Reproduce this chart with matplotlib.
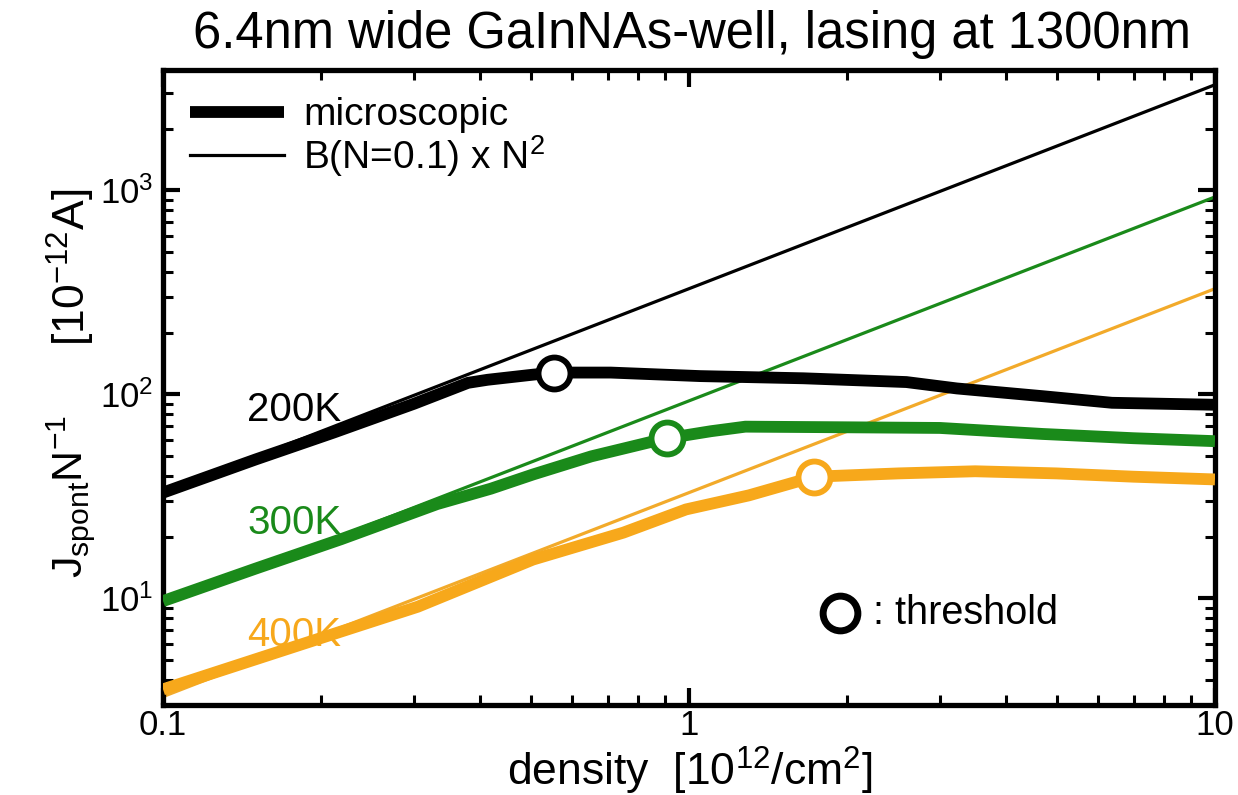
import matplotlib
matplotlib.use("Agg")
import matplotlib.pyplot as plt
from matplotlib.lines import Line2D
from matplotlib.ticker import LogLocator, FixedLocator, FixedFormatter

plt.rcParams['font.family'] = ['Liberation Sans', 'DejaVu Sans']
plt.rcParams['mathtext.fontset'] = 'custom'
plt.rcParams['mathtext.rm'] = 'Liberation Sans'
plt.rcParams['mathtext.it'] = 'Liberation Sans:italic'
plt.rcParams['mathtext.bf'] = 'Liberation Sans:bold'

# ---- data ----
# thin lines: B(N=0.1) x N^2, i.e. J/N proportional to N
thin_x = [0.1, 10]
thin_200 = [33, 3300]
thin_300 = [9.3, 930]
thin_400 = [3.3, 330]

x_200 = [0.1, 0.15, 0.211, 0.3, 0.38, 0.414, 0.505, 0.554, 0.71, 1.05, 1.65, 2.59, 3.23, 4.71, 6.37, 10]
y_200 = [33, 48, 65, 90, 114, 118, 125, 128, 128, 123, 120, 115, 107, 98, 91, 89]

x_300 = [0.1, 0.15, 0.218, 0.332, 0.42, 0.505, 0.652, 0.835, 0.91, 1.1, 1.28, 2.0, 3.0, 4.7, 7.0, 10]
y_300 = [9.7, 14, 19.5, 29, 34.5, 40.5, 49.7, 58, 61, 66, 69.5, 69, 68.5, 64, 61, 59]

x_400 = [0.1, 0.2, 0.305, 0.505, 0.75, 0.987, 1.3, 1.73, 2.5, 3.5, 5, 7, 10]
y_400 = [3.58, 6.4, 9.1, 15.5, 21, 27.3, 32, 39.5, 41, 42, 41, 39.5, 38.3]

thr_x = [0.554, 0.91, 1.73]
thr_y = [128, 61, 39.5]

temps = ['200K', '300K', '400K']
colors = ['black', '#1a8a1a', '#f7a81b']
thin_colors = ['black', '#1a8a1a', '#f2aa2a']

fig = plt.figure(figsize=(12.38, 7.95), dpi=100)
ax = fig.add_axes([0.1317, 0.1132, 0.8497, 0.7988])
ax.set_xscale('log')
ax.set_yscale('log')
ax.set_xlim(0.1, 10)
ax.set_ylim(3.0, 3900)

thins = [thin_200, thin_300, thin_400]
thick_x = [x_200, x_300, x_400]
thick_y = [y_200, y_300, y_400]
for i in range(3):
    ax.plot(thin_x, thins[i], color=thin_colors[i], lw=2.3, solid_capstyle='butt', zorder=2)
    ax.plot(thick_x[i], thick_y[i], color=colors[i], lw=8.5, solid_capstyle='butt',
            solid_joinstyle='round', zorder=3)
    ax.plot([thr_x[i]], [thr_y[i]], 'o', ms=23, mfc='white', mec=colors[i], mew=4.2, zorder=4)

# temperature labels
label_y = [0.465, 0.287, 0.110]
for t, c, yy in zip(temps, colors, label_y):
    ax.text(0.080, yy, t, color=c, fontsize=29, transform=ax.transAxes,
            ha='left', va='center')

# ticks
ax.xaxis.set_major_locator(FixedLocator([0.1, 1, 10]))
ax.xaxis.set_major_formatter(FixedFormatter(['0.1', '1', '10']))
ax.xaxis.set_minor_locator(LogLocator(base=10, subs=range(2, 10)))
ax.yaxis.set_major_locator(FixedLocator([10, 100, 1000]))
ax.yaxis.set_major_formatter(FixedFormatter([r'$10^1$', r'$10^2$', r'$10^3$']))
ax.yaxis.set_minor_locator(LogLocator(base=10, subs=range(2, 10)))
ax.xaxis.set_minor_formatter(FixedFormatter([]))
ax.yaxis.set_minor_formatter(FixedFormatter([]))
ax.tick_params(which='both', direction='in', top=True, right=True, labelsize=25)
ax.tick_params(which='major', length=12, width=3)
ax.tick_params(which='minor', length=7, width=2.2)
ax.tick_params(axis='x', pad=3)
ax.tick_params(axis='y', pad=7)
for s in ax.spines.values():
    s.set_linewidth(3.8)

# axis labels
fig.text(0.557, 0.012, r'density  [10$^{12}$/cm$^2$]', fontsize=32,
         ha='center', va='baseline')
fig.text(0.057, 0.664, r'[10$^{-12}$A]', fontsize=32, rotation=90,
         ha='center', va='center')
fig.text(0.057, 0.375, r'J$_{\mathrm{spont}}$N$^{-1}$', fontsize=31, rotation=90,
         ha='center', va='center')

fig.text(0.559, 0.957, '6.4nm wide GaInNAs-well, lasing at 1300nm', fontsize=36.5,
         ha='center', va='center')

# legend
h1 = [Line2D([], [], color='black', lw=8.5, solid_capstyle='butt'),
      Line2D([], [], color='black', lw=2.3)]
leg1 = ax.legend(h1, ['microscopic', r'B(N=0.1) x N$^2$'], loc='upper left',
                 frameon=False, fontsize=28, handlelength=2.4, handletextpad=0.5,
                 labelspacing=0.0, borderaxespad=0.3, bbox_to_anchor=(0.0, 1.0))

# threshold key
ax.plot([0.644], [0.145], 'o', transform=ax.transAxes, ms=25, mfc='white',
        mec='black', mew=5, clip_on=False, zorder=5)
ax.text(0.675, 0.145, ': threshold', transform=ax.transAxes, fontsize=28.5,
        ha='left', va='center')

fig.savefig('out.png', dpi=100)
